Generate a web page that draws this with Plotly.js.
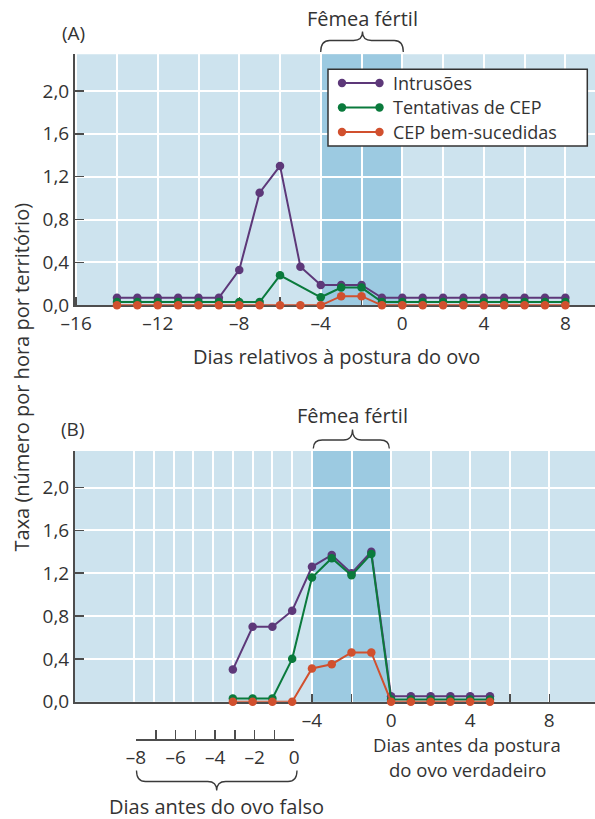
<!DOCTYPE html>
<html><head><meta charset="utf-8">
<script src="https://cdn.plot.ly/plotly-3.0.1.min.js"></script>
<style>html,body{margin:0;padding:0;background:#fff}#chart{width:595px;height:819px}</style>
</head><body><div id="chart"></div>
<script>
// ---------- data ----------
const seriesNames = ['Intrusões', 'Tentativas de CEP', 'CEP bem-sucedidas'];
const seriesColors = ['#5d3879', '#0a7a3c', '#d1502e'];

// Panel A: days relative to egg laying
const daysA = [-14,-13,-12,-11,-10,-9,-8,-7,-6,-5,-4,-3,-2,-1,0,1,2,3,4,5,6,7,8];
const intrusoesA    = [0.07,0.07,0.07,0.07,0.07,0.07,0.33,1.05,1.30,0.36,0.19,0.19,0.19,0.07,0.07,0.07,0.07,0.07,0.07,0.07,0.07,0.07,0.07];
const tentativasA   = [0.03,0.03,0.03,0.03,0.03,0.03,0.03,0.03,0.28,null,0.075,0.165,0.165,0.03,0.03,0.03,0.03,0.03,0.03,0.03,0.03,0.03,0.03];
const bemSucedidasA = [0,0,0,0,0,0,0,0,0,0,0,0.085,0.085,0,0,0,0,0,0,0,0,0,0];

// Panel B: days before laying of the true egg
const daysB = [-8,-7,-6,-5,-4,-3,-2,-1,0,1,2,3,4,5];
const intrusoesB    = [0.30,0.70,0.70,0.85,1.26,1.37,1.20,1.40,0.05,0.05,0.05,0.05,0.05,0.05];
const tentativasB   = [0.03,0.03,0.03,0.40,1.16,1.34,1.18,1.38,0.02,0.02,0.02,0.02,0.02,0.02];
const bemSucedidasB = [0,0,0,0,0.31,0.35,0.46,0.46,0,0,0,0,0,0];

// Axis ticks
const yTickVals = [0, 0.4, 0.8, 1.2, 1.6, 2.0];
const yTickText = ['0,0', '0,4', '0,8', '1,2', '1,6', '2,0'];
const xTickValsA = [-16,-14,-12,-10,-8,-6,-4,-2,0,2,4,6,8];
const xTickTextA = ['–16','','–12','','–8','','–4','','0','','4','','8'];
const xTickValsB = [-4,-2,0,2,4,6,8];
const xTickTextB = ['–4','','0','','4','','8'];
const xGridB = [-13,-12,-11,-10,-9,-8,-7,-6,-5];
const falseEggVals = [-8,-7,-6,-5,-4,-3,-2,-1,0];
const falseEggText = ['–8','','–6','','–4','','–2','','0'];
const fertileWindow = [-4, 0];

// ---------- helpers ----------
const W = 595, H = 819;
const X = p => p / W;
const Y = p => 1 - p / H;
const TXT = '#333333';
const AXC = '#4d4d4d';
const BG = '#cde3ee';
const FERT = '#9ccae1';

function brace(x0, x1, xt, yEnd, yMid, yTip) {
  const r = 9;
  return `M${X(x0)},${Y(yEnd)} Q${X(x0)},${Y(yMid)} ${X(x0+r)},${Y(yMid)} ` +
         `L${X(xt-r)},${Y(yMid)} Q${X(xt)},${Y(yMid)} ${X(xt)},${Y(yTip)} ` +
         `Q${X(xt)},${Y(yMid)} ${X(xt+r)},${Y(yMid)} L${X(x1-r)},${Y(yMid)} ` +
         `Q${X(x1)},${Y(yMid)} ${X(x1)},${Y(yEnd)}`;
}

function trace(x, y, i, xa, ya) {
  return {
    x: x, y: y, xaxis: xa, yaxis: ya, type: 'scatter', mode: 'lines+markers',
    name: seriesNames[i], showlegend: false, connectgaps: true, cliponaxis: false,
    line: {color: seriesColors[i], width: 2},
    marker: {color: seriesColors[i], size: 8.5},
    hoverinfo: 'skip'
  };
}

const data = [
  trace(daysA, intrusoesA, 0, 'x', 'y'),
  trace(daysA, tentativasA, 1, 'x', 'y'),
  trace(daysA, bemSucedidasA, 2, 'x', 'y'),
  trace(daysB, intrusoesB, 0, 'x2', 'y2'),
  trace(daysB, tentativasB, 1, 'x2', 'y2'),
  trace(daysB, bemSucedidasB, 2, 'x2', 'y2'),
  // carrier (no visible points) so that the false-egg axis is drawn
  {x: falseEggVals, y: falseEggVals.map(() => null), xaxis: 'x3', yaxis: 'y3', type: 'scatter', mode: 'markers',
   showlegend: false, hoverinfo: 'skip', marker: {opacity: 0}}
];

const tickFont = {family: "'Open Sans', sans-serif", size: 19, color: TXT};

function xAxisBase(extra) {
  return Object.assign({
    showline: true, linecolor: AXC, linewidth: 2,
    ticks: 'inside', ticklen: 8, tickwidth: 1.5, tickcolor: AXC,
    tickmode: 'array', showgrid: true, gridcolor: '#ffffff', gridwidth: 2,
    zeroline: false, tickfont: tickFont, layer: 'below traces', fixedrange: true
  }, extra);
}
function yAxisBase(extra) {
  return Object.assign({
    range: [0, 2.341], showline: true, linecolor: AXC, linewidth: 2,
    ticks: 'inside', ticklen: 9, tickwidth: 1.5, tickcolor: AXC,
    tickmode: 'array', tickvals: yTickVals, ticktext: yTickText,
    showgrid: true, gridcolor: '#ffffff', gridwidth: 2,
    zeroline: false, tickfont: tickFont, layer: 'below traces', fixedrange: true
  }, extra);
}

const shapes = [
  {type: 'rect', xref: 'x domain', yref: 'y domain', x0: 0, x1: 1, y0: 0, y1: 1, fillcolor: BG, line: {width: 0}, layer: 'below'},
  {type: 'rect', xref: 'x', yref: 'y domain', x0: fertileWindow[0], x1: fertileWindow[1], y0: 0, y1: 1, fillcolor: FERT, line: {width: 0}, layer: 'below'},
  {type: 'rect', xref: 'x2 domain', yref: 'y2 domain', x0: 0, x1: 1, y0: 0, y1: 1, fillcolor: BG, line: {width: 0}, layer: 'below'},
  {type: 'rect', xref: 'x2', yref: 'y2 domain', x0: fertileWindow[0], x1: fertileWindow[1], y0: 0, y1: 1, fillcolor: FERT, line: {width: 0}, layer: 'below'},
  // braces
  {type: 'path', xref: 'paper', yref: 'paper', path: brace(320.7, 403.3, 362.5, 52, 40.5, 31.5), line: {color: '#3a3a3a', width: 1.3}},
  {type: 'path', xref: 'paper', yref: 'paper', path: brace(313.3, 389.3, 352.5, 448.5, 440, 429.5), line: {color: '#3a3a3a', width: 1.3}},
  {type: 'path', xref: 'paper', yref: 'paper', path: brace(136.5, 297, 216.7, 770.5, 781.5, 790.5), line: {color: '#3a3a3a', width: 1.3}},
  // legend box
  {type: 'rect', xref: 'paper', yref: 'paper', x0: X(328), x1: X(587.3), y0: Y(146), y1: Y(69.3), fillcolor: '#ffffff', line: {color: '#333333', width: 1.5}, layer: 'above'}
];

const legendRows = [83, 107.5, 132];
const annotations = [];
legendRows.forEach((ry, i) => {
  shapes.push({type: 'line', xref: 'paper', yref: 'paper', x0: X(342), x1: X(379.5), y0: Y(ry), y1: Y(ry), line: {color: seriesColors[i], width: 2}, layer: 'above'});
  [342, 379.5].forEach(cx => shapes.push({type: 'circle', xref: 'paper', yref: 'paper', x0: X(cx-4.2), x1: X(cx+4.2), y0: Y(ry+4.2), y1: Y(ry-4.2), fillcolor: seriesColors[i], line: {width: 0}, layer: 'above'}));
  annotations.push({xref: 'paper', yref: 'paper', x: X(392), y: Y(ry), xanchor: 'left', yanchor: 'middle', text: seriesNames[i], showarrow: false, borderpad: 0, font: {size: 18, color: TXT}});
});

function ann(text, px, py, extra) {
  annotations.push(Object.assign({xref: 'paper', yref: 'paper', x: X(px), y: Y(py), xanchor: 'center', yanchor: 'middle', text: text, showarrow: false, borderpad: 0, font: {size: 20, color: TXT}}, extra || {}));
}
ann('(A)', 73, 33, {font: {size: 19, color: TXT}});
ann('(B)', 72.5, 429, {font: {size: 19, color: TXT}});
ann('Fêmea fértil', 362.5, 18.5);
ann('Fêmea fértil', 352.5, 415.5);
ann('Dias relativos à postura do ovo', 336, 356);
ann('Dias antes da postura', 467, 744, {font: {size: 18.5, color: TXT}});
ann('do ovo verdadeiro', 467, 769, {font: {size: 18.5, color: TXT}});
ann('Dias antes do ovo falso', 216.5, 806);
ann('Taxa (número por hora por território)', 21, 377.5, {textangle: -90});

const layout = {
  width: W, height: H,
  margin: {l: 0, r: 0, t: 0, b: 0, pad: 0},
  paper_bgcolor: '#ffffff', plot_bgcolor: 'rgba(0,0,0,0)',
  font: {family: "'Open Sans', sans-serif", color: TXT, size: 19},
  showlegend: false,
  xaxis: xAxisBase({domain: [X(75), 1], range: [-16.06, 9.455], anchor: 'y', tickvals: xTickValsA, ticktext: xTickTextA}),
  yaxis: yAxisBase({domain: [Y(305.3), Y(54.3)], anchor: 'x'}),
  xaxis2: xAxisBase({domain: [X(75), 1], range: [-15.98, 10.31], anchor: 'y2', tickvals: xTickValsB, ticktext: xTickTextB,
    minor: {tickmode: 'array', tickvals: xGridB, showgrid: true, gridcolor: '#ffffff', gridwidth: 2, ticks: ''}}),
  yaxis2: yAxisBase({domain: [Y(701.7), Y(451)], anchor: 'x2'}),
  xaxis3: {domain: [X(136), X(294.3)], range: [-8, 0], anchor: 'y3',
    showline: true, linecolor: AXC, linewidth: 1.5, ticks: 'inside', ticklen: 9, tickwidth: 1.5, tickcolor: AXC,
    tickmode: 'array', tickvals: falseEggVals, ticktext: falseEggText, showgrid: false, zeroline: false,
    tickfont: tickFont, fixedrange: true},
  yaxis3: {domain: [Y(739.3), Y(731)], anchor: 'x3', visible: false, range: [0, 1], fixedrange: true},
  shapes: shapes,
  annotations: annotations
};

Plotly.newPlot('chart', data, layout, {staticPlot: true, displayModeBar: false});
</script>
</body></html>
